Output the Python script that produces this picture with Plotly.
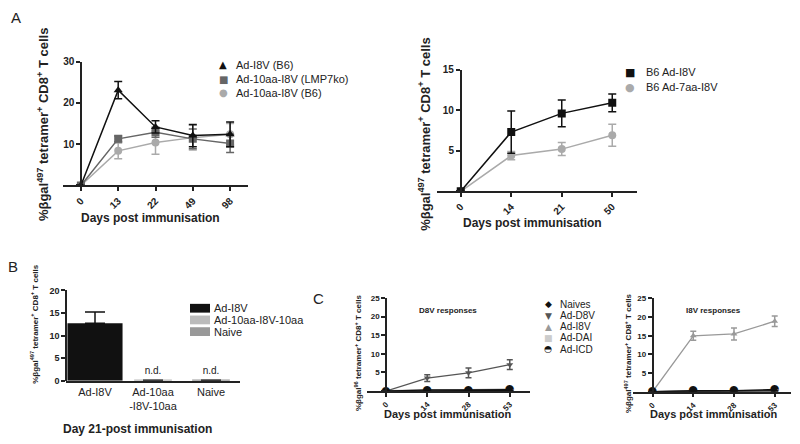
import plotly.graph_objects as go

# The page body has an 8px default margin; the figure is sized to fit the
# 800x444 window exactly and all layout positions are given in window pixels.
OX, OY = 8, 8
W, H = 784, 428
FONT = "Liberation Sans, Arial, sans-serif"


def px(x):
    return (x - OX) / W


def py(y):
    return 1 - (y - OY) / H


# ---------------- DATA ----------------
# Panel A (left)
a1_days = ["0", "13", "22", "49", "98"]
a1_i8v_b6 = [0, 23.1, 14.2, 12.1, 12.4]
a1_i8v_b6_err = [0, 2.1, 1.5, 2.7, 3.0]
a1_10aa_lmp7 = [0, 11.3, 12.9, 11.3, 10.2]
a1_10aa_lmp7_err = [0, 0.7, 1.2, 2.4, 2.2]
a1_10aa_b6 = [0, 8.4, 10.4, 11.6, 12.4]
a1_10aa_b6_err = [0, 1.9, 2.8, 3.0, 2.6]
a1_names = ["Ad-I8V (B6)", "Ad-10aa-I8V (LMP7ko)", "Ad-10aa-I8V (B6)"]

# Panel A (right)
a2_days = ["0", "14", "21", "50"]
a2_b6_i8v = [0, 7.3, 9.6, 10.9]
a2_b6_i8v_err = [0, 2.6, 1.65, 1.1]
a2_b6_7aa = [0, 4.4, 5.2, 6.9]
a2_b6_7aa_err = [0, 0.5, 0.8, 1.35]
a2_names = ["B6 Ad-I8V", "B6 Ad-7aa-I8V"]

# Panel B
b_groups = ["Ad-I8V", "Ad-10aa<br>-I8V-10aa", "Naive"]
b_legend = ["Ad-I8V", "Ad-10aa-I8V-10aa", "Naive"]
b_values = [12.7, 0.1, 0.1]
b_err = [2.5, 0, 0]
b_labels = ["", "n.d.", "n.d."]

# Panel C
c_days = ["0", "14", "28", "53"]
c_names = ["Naives", "Ad-D8V", "Ad-I8V", "Ad-DAI", "Ad-ICD"]
# D8V responses
cl_naives = [0, 0.1, 0.1, 0.2]
cl_d8v = [0, 3.5, 4.9, 7.1]
cl_d8v_err = [0, 0.9, 1.3, 1.3]
cl_i8v = [0.1, 0.2, 0.3, 0.5]
cl_dai = [0.1, 0.1, 0.2, 0.3]
cl_icd = [0, 0.3, 0.3, 0.4]
# I8V responses
cr_naives = [0, 0.1, 0.1, 0.2]
cr_d8v = [0, 0.1, 0.2, 0.4]
cr_i8v = [0, 15.0, 15.5, 18.9]
cr_i8v_err = [0, 1.2, 1.6, 1.4]
cr_dai = [0, 0.1, 0.1, 0.2]
cr_icd = [0, 0.3, 0.3, 0.6]

# ---------------- STYLES ----------------
BLACK = "#111111"
DGREY = "#666666"
LGREY = "#aaaaaa"
C_COL = {"Naives": BLACK, "Ad-D8V": "#555555", "Ad-I8V": "#999999",
         "Ad-DAI": "#cccccc", "Ad-ICD": BLACK}
C_SYM = {"Naives": "diamond", "Ad-D8V": "triangle-down", "Ad-I8V": "triangle-up",
         "Ad-DAI": "square", "Ad-ICD": "circle"}
C_GLYPH = {"Naives": "◆", "Ad-D8V": "▼", "Ad-I8V": "▲", "Ad-DAI": "■", "Ad-ICD": "◓"}

fig = go.Figure()


def line_trace(x, y, err, color, symbol, size, xa, ya, lw=1.5, cap=4):
    kw = {}
    if err is not None:
        kw["error_y"] = dict(type="data", array=err, color=color, thickness=1.5, width=cap)
    fig.add_trace(go.Scatter(
        x=x, y=y, mode="lines+markers", showlegend=False,
        line=dict(color=color, width=lw),
        marker=dict(color=color, symbol=symbol, size=size),
        xaxis=xa, yaxis=ya, **kw))


# Panel A left
line_trace(a1_days, a1_10aa_b6, a1_10aa_b6_err, LGREY, "circle", 8, "x", "y")
line_trace(a1_days, a1_10aa_lmp7, a1_10aa_lmp7_err, DGREY, "square", 8, "x", "y")
line_trace(a1_days, a1_i8v_b6, a1_i8v_b6_err, BLACK, "triangle-up", 8, "x", "y")

# Panel A right
line_trace(a2_days, a2_b6_7aa, a2_b6_7aa_err, LGREY, "circle", 8, "x2", "y2")
line_trace(a2_days, a2_b6_i8v, a2_b6_i8v_err, BLACK, "square", 8, "x2", "y2")

# Panel B
fig.add_trace(go.Bar(
    x=b_groups, y=b_values, width=[0.95, 0.65, 0.65],
    marker=dict(color=[BLACK, "#bbbbbb", "#999999"], line=dict(width=0)),
    error_y=dict(type="data", array=b_err, arrayminus=[0, 0, 0], symmetric=False,
                 color=BLACK, thickness=1.5, width=10),
    text=b_labels, textposition="outside", cliponaxis=False,
    textfont=dict(family=FONT, size=10, color="#222"),
    showlegend=False, xaxis="x3", yaxis="y3"))


# Panel C
def c_panel(series, errs, xa, ya):
    for name in ["Ad-DAI", "Ad-I8V", "Ad-D8V", "Naives"]:
        line_trace(c_days, series[name], errs.get(name), C_COL[name], C_SYM[name], 6,
                   xa, ya, lw=1.3, cap=3)
    fig.add_trace(go.Scatter(
        x=c_days, y=series["Ad-ICD"], mode="lines+text", text=["◓"] * len(c_days),
        textposition="middle center",
        textfont=dict(family="DejaVu Sans", size=11, color=BLACK),
        line=dict(color=BLACK, width=1.3), showlegend=False, xaxis=xa, yaxis=ya))


c_panel({"Naives": cl_naives, "Ad-D8V": cl_d8v, "Ad-I8V": cl_i8v,
         "Ad-DAI": cl_dai, "Ad-ICD": cl_icd}, {"Ad-D8V": cl_d8v_err}, "x4", "y4")
c_panel({"Naives": cr_naives, "Ad-D8V": cr_d8v, "Ad-I8V": cr_i8v,
         "Ad-DAI": cr_dai, "Ad-ICD": cr_icd}, {"Ad-I8V": cr_i8v_err}, "x5", "y5")

# ---------------- AXES ----------------
AXLINE = dict(showline=True, linecolor="#222222", linewidth=1.5, showgrid=False,
              zeroline=False, ticks="outside", ticklen=4, tickwidth=1.5, tickcolor="#222222")


def xaxis(x0, x1, rng, size, angle=-45, bold=True, anchor="y"):
    return dict(domain=[px(x0), px(x1)], range=rng, type="category", anchor=anchor,
                tickangle=angle,
                tickfont=dict(family=FONT, size=size, color="#222",
                              weight="bold" if bold else "normal"),
                **AXLINE)


def yaxis(ytop, ybot, rng, tickvals, ticktext, xpos, size):
    return dict(domain=[py(ybot), py(ytop)], range=rng, anchor="free", position=px(xpos),
                tickvals=tickvals, ticktext=ticktext,
                tickfont=dict(family=FONT, size=size, color="#222", weight="bold"),
                **AXLINE)


layout = dict(
    width=W, height=H, margin=dict(l=0, r=0, t=0, b=0),
    plot_bgcolor="white", paper_bgcolor="white", showlegend=False,
    font=dict(family=FONT, color="#222"),
)

layout["xaxis"] = xaxis(63, 248, [-0.48, 4.48], 10, anchor="y")
layout["yaxis"] = yaxis(57, 184, [0, 30], [0, 10, 20, 30], ["", "10", "20", "30"], 81, 10)
layout["xaxis2"] = xaxis(437, 637, [-0.47, 3.49], 10, anchor="y2")
layout["yaxis2"] = yaxis(65, 190, [0, 15], [0, 5, 10, 15], ["", "5", "10", "15"], 460.7, 10)
layout["xaxis3"] = xaxis(66, 240, [-0.5, 2.5], 11, angle=0, bold=False, anchor="y3")
layout["xaxis3"]["ticks"] = ""
layout["yaxis3"] = yaxis(291.7, 384.3, [0, 20], [0, 5, 10, 15, 20],
                         ["0", "5", "10", "15", "20"], 66, 9)
layout["xaxis4"] = xaxis(367, 530, [-0.46, 3.49], 8, anchor="y4")
layout["yaxis4"] = yaxis(299.5, 395, [0, 25], [0, 5, 10, 15, 20, 25],
                         ["", "5", "10", "15", "20", "25"], 386, 8)
layout["xaxis5"] = xaxis(633, 791, [-0.48, 3.40], 8, anchor="y5")
layout["yaxis5"] = yaxis(300, 395.7, [0, 25], [0, 5, 10, 15, 20, 25],
                         ["", "5", "10", "15", "20", "25"], 652.5, 8)

# ---------------- ANNOTATIONS ----------------
ann = []
shapes = []


def text(x, y, s, size, bold=False, angle=0, xanchor="center", color="#222", family=FONT):
    ann.append(dict(x=px(x), y=py(y), xref="paper", yref="paper", text=s, showarrow=False,
                    textangle=angle, xanchor=xanchor, yanchor="middle", borderpad=0,
                    font=dict(family=family, size=size, color=color,
                              weight="bold" if bold else "normal")))


YT497 = "%βgal<sup>497</sup> tetramer<sup>+</sup> CD8<sup>+</sup> T cells"
YT96 = "%βgal<sup>96</sup> tetramer<sup>+</sup> CD8<sup>+</sup> T cells"

text(16, 12, "A", 15)
text(13, 267, "B", 15)
text(318, 300, "C", 15)

text(43, 122, YT497, 13, bold=True, angle=-90)
text(150, 217, "Days post immunisation", 12, bold=True)
text(424, 132, YT497, 13, bold=True, angle=-90)
text(532, 222, "Days post immunisation", 12, bold=True)
text(34, 326, YT497, 8, bold=True, angle=-90)
text(137, 434, "Day 21-post immunisation", 12, bold=True)
text(358, 356, YT96, 8, bold=True, angle=-90)
text(628, 356, YT497, 8, bold=True, angle=-90)
text(448, 419, "Days post immunisation", 11, bold=True)
text(713, 419, "Days post immunisation", 11, bold=True)
text(448, 312, "D8V responses", 8, bold=True)
text(713, 312, "I8V responses", 8, bold=True)

# Legend A left
for name, glyph, col, yy in zip(a1_names, ["▲", "■", "●"], [BLACK, DGREY, LGREY], [60, 75, 89]):
    text(223, yy, glyph, 10, color=col, family="DejaVu Sans")
    text(235, yy, name, 11, xanchor="left")

# Legend A right
for name, glyph, col, yy in zip(a2_names, ["■", "●"], [BLACK, LGREY], [68, 83]):
    text(630, yy, glyph, 11, color=col, family="DejaVu Sans")
    text(645, yy, name, 11, xanchor="left")

# Legend B
for name, col, yy in zip(b_legend, [BLACK, "#bbbbbb", "#999999"], [310, 322, 334]):
    shapes.append(dict(type="rect", xref="paper", yref="paper",
                       x0=px(190), x1=px(210), y0=py(yy + 4.5), y1=py(yy - 4.5),
                       fillcolor=col, line=dict(width=0)))
    text(213, yy, name, 11, xanchor="left")

# Legend C
for name, yy in zip(c_names, [306, 317.5, 329, 340.5, 352]):
    text(548, yy, C_GLYPH[name], 9, color=C_COL[name], family="DejaVu Sans")
    text(559, yy, name, 10, xanchor="left")

layout["annotations"] = ann
layout["shapes"] = shapes
fig.update_layout(**layout)
fig.write_html("out.html")
